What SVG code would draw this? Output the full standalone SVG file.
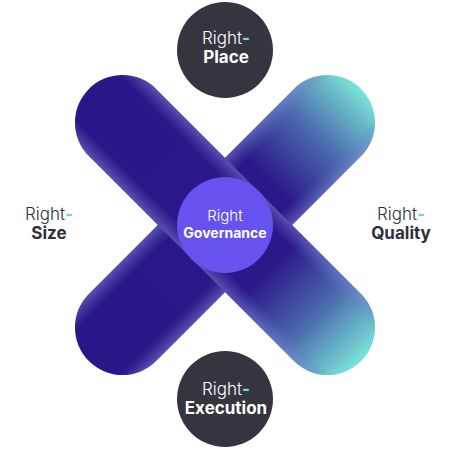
<svg xmlns="http://www.w3.org/2000/svg" width="450" height="450" viewBox="0 0 450 450">
  <style>
    .lt { font-family: Inter, "Liberation Sans", sans-serif; font-weight: 300; font-size: 17px; text-anchor: middle; }
    .bd { font-family: Inter, "Liberation Sans", sans-serif; font-weight: 700; font-size: 17px; text-anchor: middle; }
    .dash { fill: #6fdccf; font-weight: 800; }
    .on-dark { fill: #ffffff; }
    .outer { fill: #2f2e3c; }
    .dark-circle { fill: #35343f; }
    .gov-lt { font-family: Inter, "Liberation Sans", sans-serif; font-weight: 300; font-size: 15px; text-anchor: middle; }
    .gov-bd { font-family: Inter, "Liberation Sans", sans-serif; font-weight: 700; font-size: 14px; text-anchor: middle; }
  </style>
  <defs>
    <linearGradient id="along" x1="0" y1="0" x2="1" y2="0">
      <stop offset="0" stop-color="#2a1688"/>
      <stop offset="0.66" stop-color="#2c1889"/>
      <stop offset="0.83" stop-color="#4a6aae"/>
      <stop offset="1" stop-color="#7ae4d6"/>
    </linearGradient>
    <linearGradient id="across" x1="0" y1="0" x2="0" y2="1">
      <stop offset="0" stop-color="#7f8fd8" stop-opacity="0.5"/>
      <stop offset="0.18" stop-color="#6070c0" stop-opacity="0"/>
      <stop offset="0.82" stop-color="#6070c0" stop-opacity="0"/>
      <stop offset="1" stop-color="#7f8fd8" stop-opacity="0.5"/>
    </linearGradient>
  </defs>

  <g id="x-bands">
    <g id="band-bl-tr" transform="rotate(-45 225 225)">
      <rect x="32.5" y="177.5" width="385" height="95" rx="47.5" fill="url(#along)"/>
      <rect x="32.5" y="177.5" width="385" height="95" rx="47.5" fill="url(#across)"/>
    </g>
    <g id="band-tl-br" transform="rotate(45 225 225)">
      <rect x="32.5" y="177.5" width="385" height="95" rx="47.5" fill="url(#along)"/>
      <rect x="32.5" y="177.5" width="385" height="95" rx="47.5" fill="url(#across)"/>
    </g>
  </g>

  <g id="node-place">
    <circle class="dark-circle" cx="225" cy="50" r="48"/>
    <text class="lt on-dark" x="226" y="44">Right<tspan class="dash">-</tspan></text>
    <text class="bd on-dark" x="226" y="63">Place</text>
  </g>

  <g id="node-execution">
    <circle class="dark-circle" cx="225" cy="399" r="48"/>
    <text class="lt on-dark" x="226" y="395">Right<tspan class="dash">-</tspan></text>
    <text class="bd on-dark" x="226" y="414">Execution</text>
  </g>

  <g id="node-size">
    <text class="lt outer" x="49" y="220">Right<tspan class="dash">-</tspan></text>
    <text class="bd outer" x="49" y="239">Size</text>
  </g>

  <g id="node-quality">
    <text class="lt outer" x="401" y="220">Right<tspan class="dash">-</tspan></text>
    <text class="bd outer" x="401" y="239">Quality</text>
  </g>

  <g id="node-governance">
    <circle cx="225" cy="225" r="48" fill="#6653ef"/>
    <text class="gov-lt on-dark" x="225" y="221">Right</text>
    <text class="gov-bd on-dark" x="225" y="238">Governance</text>
  </g>
</svg>
